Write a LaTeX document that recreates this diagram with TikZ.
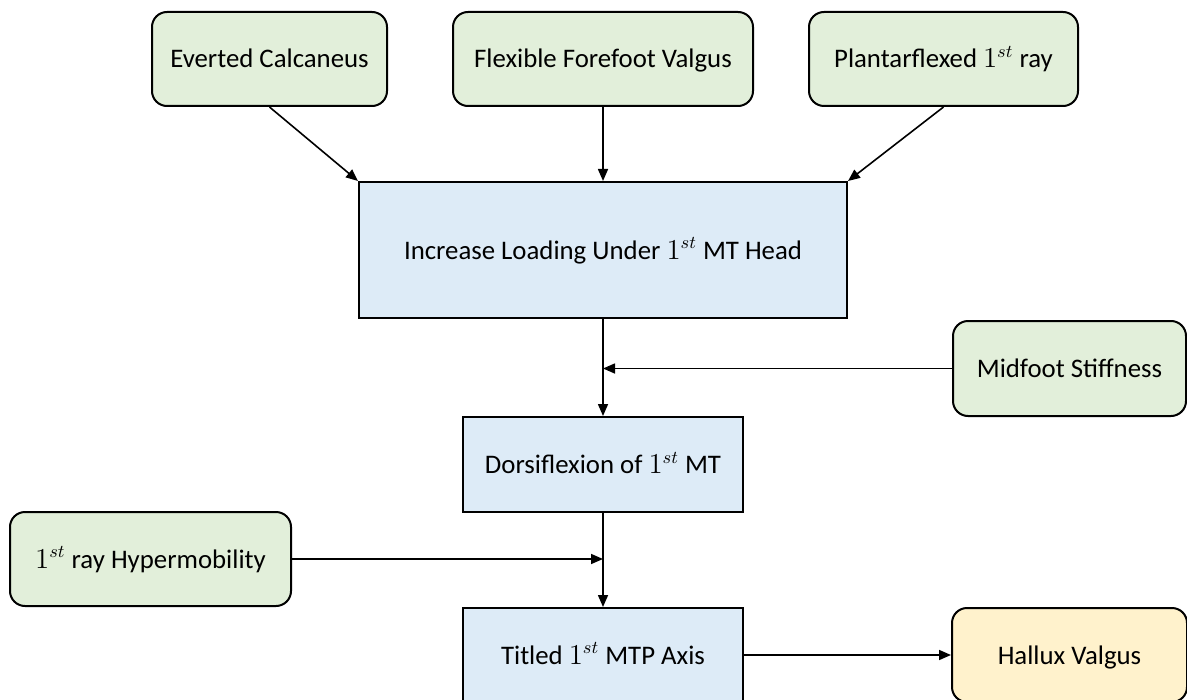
\documentclass[tikz,border=0pt]{standalone}
\usepackage{fontspec}
\setmainfont{Carlito}
\usetikzlibrary{arrows.meta}
\definecolor{gfill}{HTML}{E2EFDA}
\definecolor{bfill}{HTML}{DDEBF7}
\definecolor{yfill}{HTML}{FFF2CC}
\tikzset{
  base/.style={draw=black, line width=1pt, align=center, inner sep=0pt, text height=12pt, text depth=3pt, font=\fontsize{13.4}{16}\selectfont},
  greenbox/.style={base, fill=gfill, rounded corners=7.5pt},
  bluebox/.style={base, fill=bfill},
  yellowbox/.style={base, fill=yfill, rounded corners=7.5pt},
  conn/.style={line width=0.8pt, -{Triangle[length=6pt,width=5pt]}}
}
\begin{document}
\begin{tikzpicture}[x=0.5pt, y=-0.5pt]
\useasboundingbox (0,0) rectangle (1187,700);
\clip (0,0) rectangle (1187,700);
\node[greenbox, minimum width=117.5pt, minimum height=47pt] (ev) at (269.5,59) {Everted Calcaneus};
\node[greenbox, minimum width=150pt, minimum height=47pt] (ff) at (603,59) {Flexible Forefoot Valgus};
\node[greenbox, minimum width=134.5pt, minimum height=47pt] (pf) at (943.5,59) {Plantarflexed $1^{st}$ ray};
\node[bluebox, minimum width=244pt, minimum height=68pt] (load) at (603,250) {Increase Loading Under $1^{st}$ MT Head};
\node[greenbox, minimum width=116.5pt, minimum height=47.5pt] (mid) at (1069.5,368.5) {Midfoot Stiffness};
\node[bluebox, minimum width=140pt, minimum height=47.5pt] (dor) at (603,464.5) {Dorsiflexion of $1^{st}$ MT};
\node[greenbox, minimum width=140.5pt, minimum height=47pt] (hyp) at (150.5,559) {$1^{st}$ ray Hypermobility};
\node[bluebox, minimum width=140pt, minimum height=47pt] (tit) at (603,655) {Titled $1^{st}$ MTP Axis};
\node[yellowbox, minimum width=117.5pt, minimum height=47pt] (hal) at (1069.5,655) {Hallux Valgus};
\coordinate (m1) at (load.south |- mid.west);
\coordinate (m2) at (dor.south |- hyp.east);
\draw[conn] (ev.south) -- (load.north west);
\draw[conn] (ff.south) -- (load.north);
\draw[conn] (pf.south) -- (load.north east);
\draw[conn] (load.south) -- (dor.north);
\draw[conn] (mid.west) -- (m1);
\draw[conn] (dor.south) -- (tit.north);
\draw[conn] (hyp.east) -- (m2);
\draw[conn] (tit.east) -- (hal.west);
\end{tikzpicture}
\end{document}
